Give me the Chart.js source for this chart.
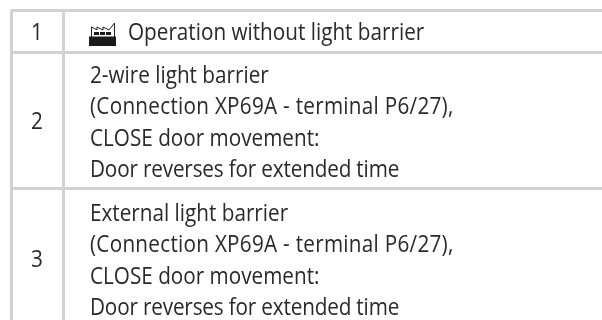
<!DOCTYPE html>
<html>
<head>
<meta charset="utf-8">
<script src="https://cdn.jsdelivr.net/npm/chart.js@4"></script>
<style>
    html, body { margin: 0; padding: 0; background: #fff; }
    canvas { display: block; }
</style>
</head>
<body>
<canvas id="cvs" width="602" height="320"></canvas>
<script>
// table content
const rowIds = ['1', '2', '3'];
const rowLines = [
    ['Operation without light barrier'],
    ['2-wire light barrier', '(Connection XP69A - terminal P6/27),', 'CLOSE door movement:', 'Door reverses for extended time'],
    ['External light barrier', '(Connection XP69A - terminal P6/27),', 'CLOSE door movement:', 'Door reverses for extended time']
];
// ticks = where the table rules sit
const colTicks = [11, 63];
const rowTicks = [10, 52, 188, 328];

const ruleColor = '#d2d2d2';
const textColor = '#2a2a2a';
const fontCss = '23px "Open Sans"';
const squeeze = 0.9; // reference face is narrower than Open Sans
const lineHeight = 31.2;

const drawIcon = (ctx, x, y) => {
    // factory glyph in front of the first row
    ctx.save();
    ctx.translate(x, y);
    ctx.strokeStyle = '#222';
    ctx.lineWidth = 1;
    ctx.beginPath();
    ctx.moveTo(1.5, 14);
    ctx.lineTo(1.5, 4);
    ctx.lineTo(7, 7);
    ctx.lineTo(7, 4);
    ctx.lineTo(13, 7);
    ctx.lineTo(13, 4);
    ctx.lineTo(19, 7);
    ctx.lineTo(24.5, 0);
    ctx.lineTo(24.5, 14);
    ctx.stroke();
    ctx.fillStyle = '#1a1a1a';
    ctx.fillRect(-1, 13.5, 27, 9.5);
    [4, 10, 16].forEach(wx => ctx.fillRect(wx, 9, 5, 3));
    ctx.restore();
};

let putText = (ctx, str, x, y, align) => {
    ctx.save();
    ctx.translate(x, y);
    ctx.scale(squeeze, 1);
    ctx.textAlign = align;
    // digits and caps run wider in the reference, lowercase narrower
    if (str.startsWith('(')) ctx.letterSpacing = '0.3px';
    if (str.startsWith('Door')) ctx.letterSpacing = '-0.18px';
    ctx.fillText(str, 0, 0);
    ctx.restore();
};

const tableText = {
    id: 'tableText',
    afterDraw(chart) {
        const { ctx, scales } = chart;
        ctx.save();
        ctx.font = fontCss;
        ctx.fillStyle = textColor;
        ctx.textBaseline = 'alphabetic';
        for (let i = 0; i < rowIds.length; i++) {
            const mid = scales.y.getPixelForValue((rowTicks[i] + rowTicks[i + 1]) / 2);
            const idX = scales.x.getPixelForValue((colTicks[0] + colTicks[1]) / 2);
            putText(ctx, rowIds[i], idX, mid + 9, 'center');
            const lines = rowLines[i];
            const firstBase = mid + 9 - (lines.length - 1) * lineHeight / 2 + (lines.length > 1 ? 1 : 0);
            lines.forEach((line, n) => {
                const left = scales.x.getPixelForValue(colTicks[1]) + 27 + (lines.length === 1 ? 38 : 0);
                putText(ctx, line, left, firstBase + n * lineHeight, 'left');
            });
        }
        ctx.restore();
        drawIcon(ctx, 90, 23);
    }
};

new Chart(document.getElementById('cvs'), {
    type: 'scatter',
    data: { datasets: [] },
    plugins: [tableText],
    options: {
        responsive: false,
        animation: false,
        layout: { padding: { left: 11, top: 10, right: 0, bottom: 0 } },
        plugins: { legend: { display: false }, tooltip: { enabled: false } },
        scales: {
            x: {
                type: 'linear', min: 11, max: 602,
                afterBuildTicks: axis => { axis.ticks = colTicks.map(v => ({ value: v })); },
                ticks: { display: false },
                border: { display: false },
                grid: { color: ruleColor, lineWidth: 3, drawTicks: false }
            },
            y: {
                type: 'linear', min: 10, max: 320, reverse: true,
                afterBuildTicks: axis => { axis.ticks = rowTicks.map(v => ({ value: v })); },
                ticks: { display: false },
                border: { display: false },
                grid: { color: ruleColor, lineWidth: 3, drawTicks: false }
            }
        }
    }
});
</script>
</body>
</html>
